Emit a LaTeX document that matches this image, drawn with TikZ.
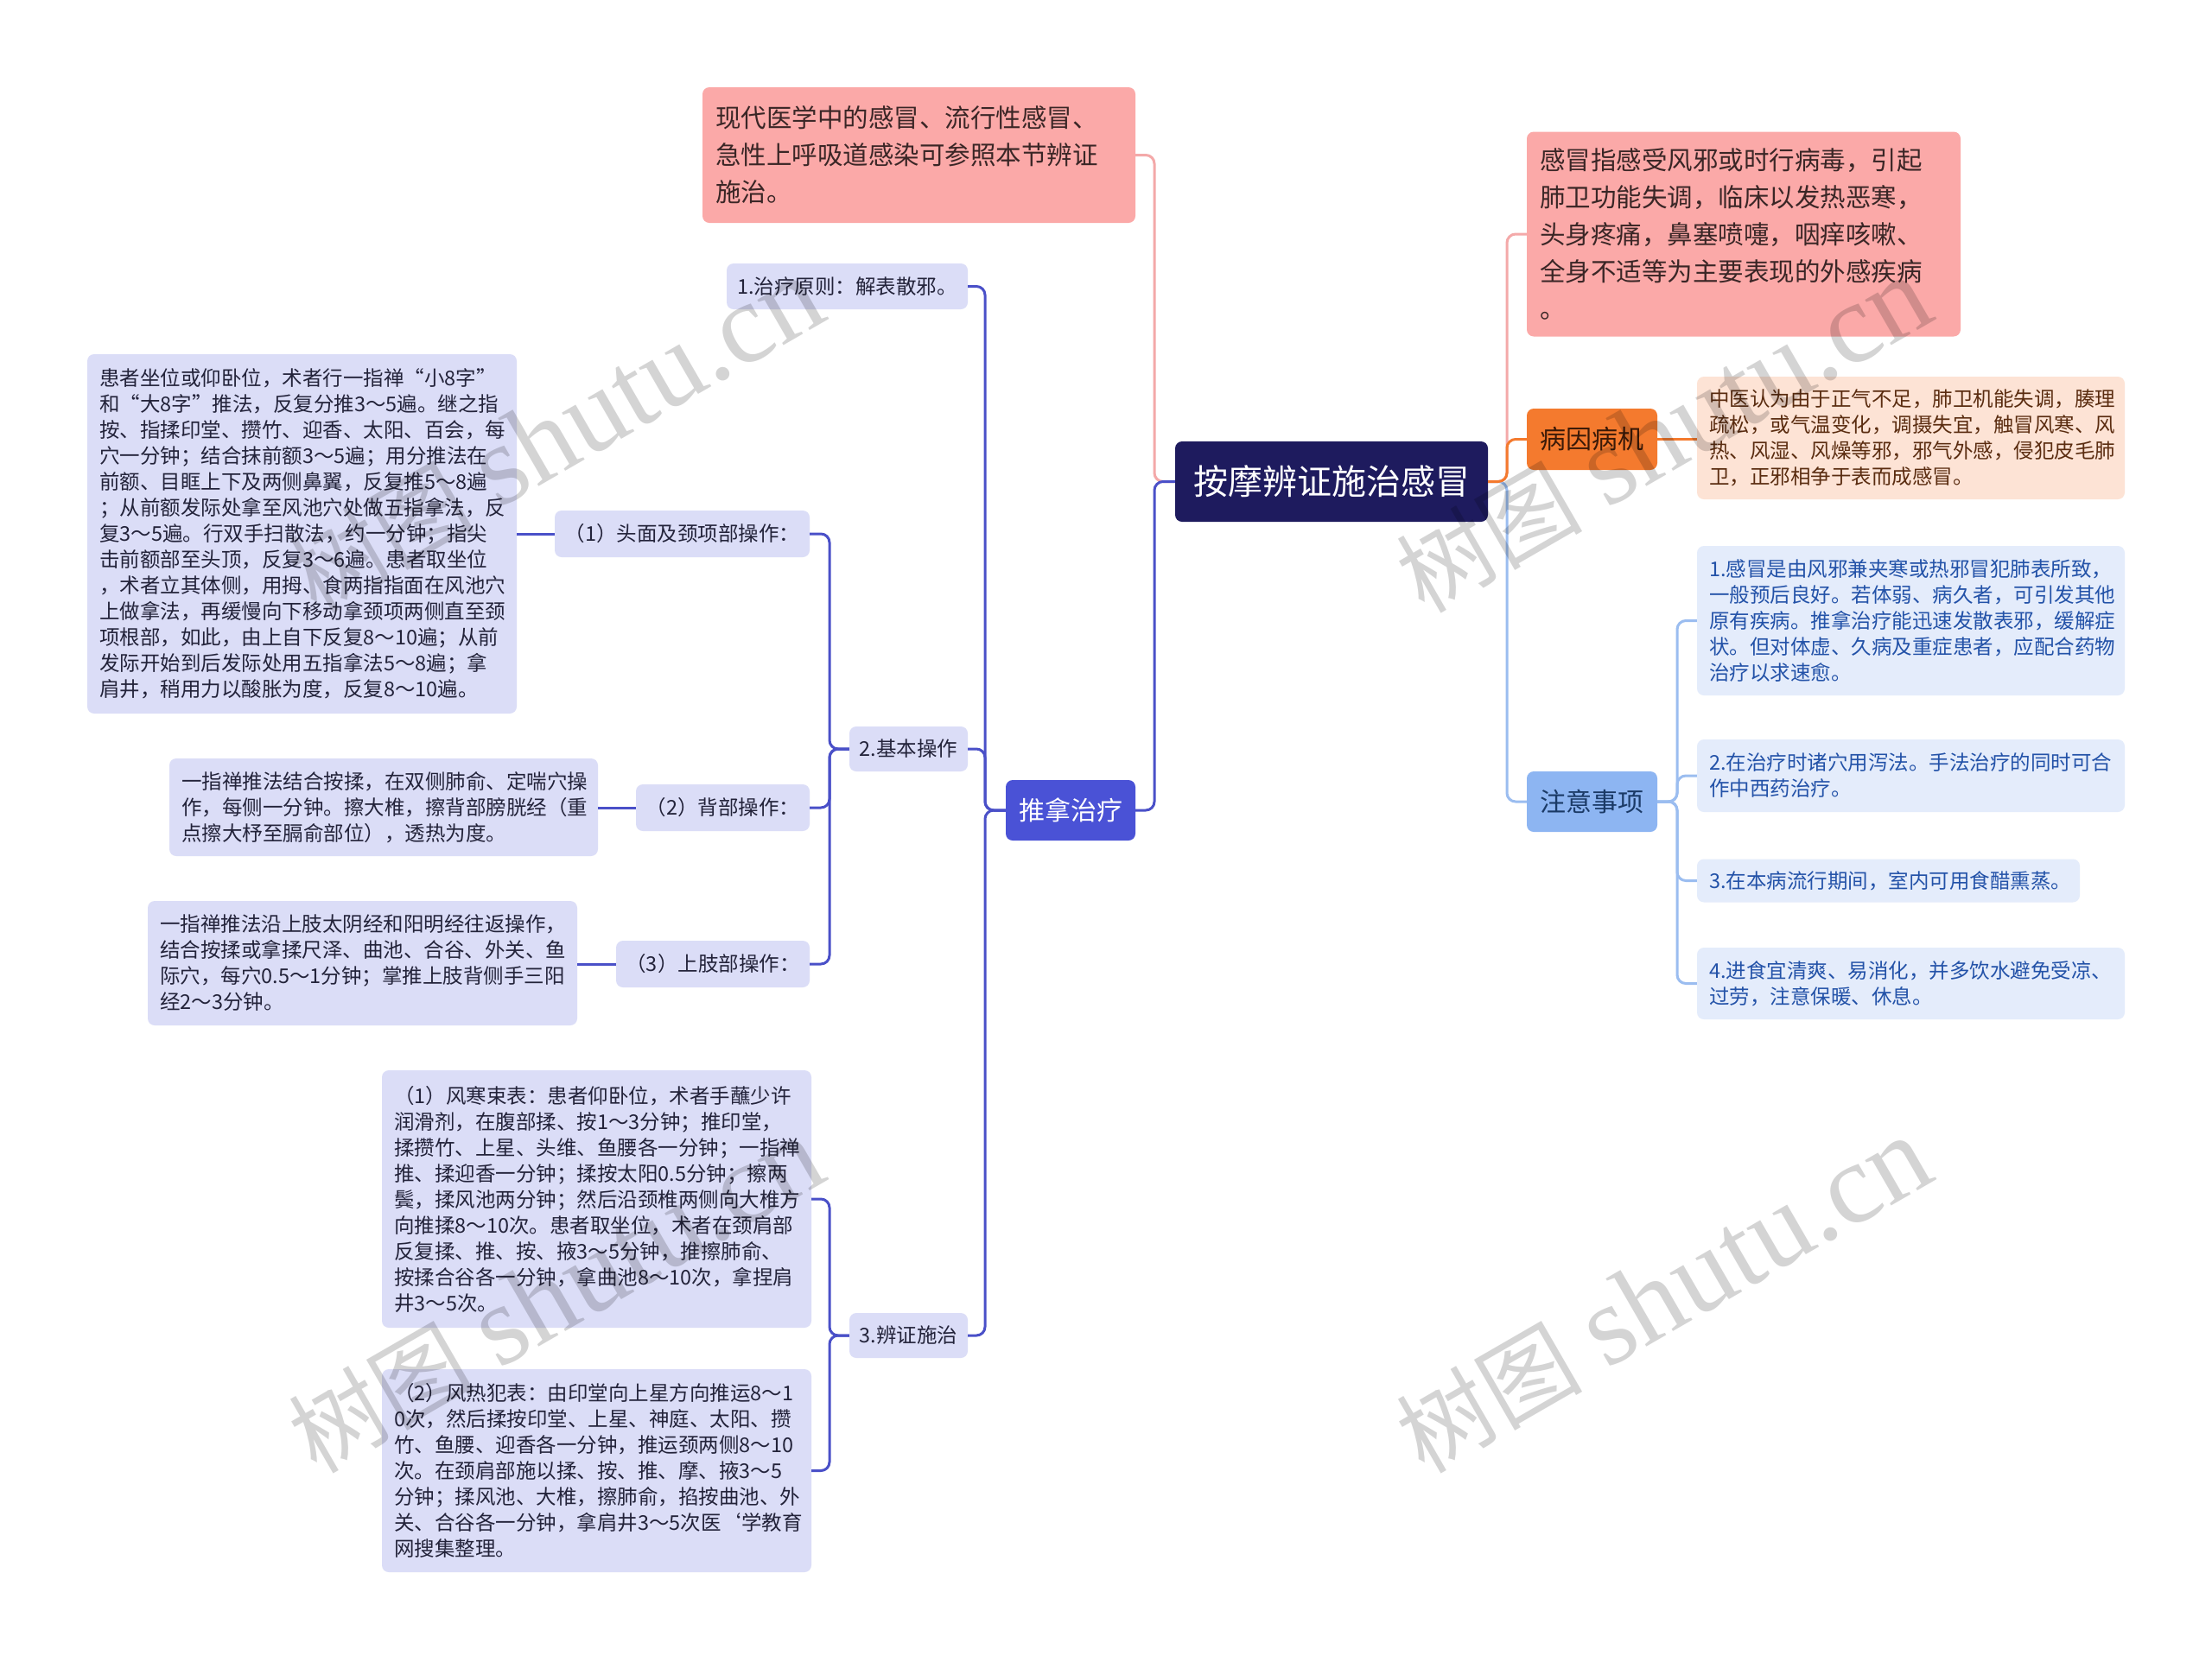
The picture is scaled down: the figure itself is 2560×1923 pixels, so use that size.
\documentclass[tikz,border=0pt]{standalone}
\usepackage{fontspec}
\setmainfont{Noto Sans CJK SC}
\newfontfamily\wmfont{Liberation Serif}
\usetikzlibrary{calc}
\definecolor{rootc}{HTML}{1E1B5E}
\definecolor{tuinac}{HTML}{4A52D6}
\definecolor{linec}{HTML}{4A50C8}
\definecolor{lav}{HTML}{DBDDF7}
\definecolor{lavtext}{HTML}{23233A}
\definecolor{pinkc}{HTML}{FBA9A8}
\definecolor{pinkline}{HTML}{F4A9A9}
\definecolor{pinktext}{HTML}{3A2626}
\definecolor{orangec}{HTML}{F47A2E}
\definecolor{orangetext}{HTML}{3B1A08}
\definecolor{peach}{HTML}{FDE3D5}
\definecolor{peachtext}{HTML}{5A2C10}
\definecolor{zhuyic}{HTML}{8DB5F2}
\definecolor{zhuyitext}{HTML}{1B3A66}
\definecolor{bluebox}{HTML}{E4ECFB}
\definecolor{bluetext}{HTML}{2352A8}
\definecolor{blueline}{HTML}{9BBDF0}
\tikzset{
  base/.style={rounded corners=8pt, inner sep=0pt, anchor=center},
  small/.style={font=\fontsize{23.5pt}{30pt}\selectfont},
  lavtxt/.style={base, small, fill=lav, text=lavtext, align=left},
  lavlab/.style={base, small, fill=lav, text=lavtext},
  bluetxt/.style={base, small, fill=bluebox, text=bluetext, align=left},
  peachtxt/.style={base, small, fill=peach, text=peachtext, align=left},
  pinktxt/.style={base, fill=pinkc, text=pinktext, align=left, font=\fontsize{29.5pt}{43pt}\selectfont},
  rootbox/.style={base, fill=rootc, text=white, font=\fontsize{40pt}{48pt}\selectfont},
  tuinabox/.style={base, fill=tuinac, text=white, font=\fontsize{30pt}{36pt}\selectfont},
  bingbox/.style={base, fill=orangec, text=orangetext, font=\fontsize{30pt}{36pt}\selectfont},
  zhuyibox/.style={base, fill=zhuyic, text=zhuyitext, font=\fontsize{30pt}{36pt}\selectfont},
  conn/.style={line width=3pt, rounded corners=10pt},
  wm/.style={anchor=base west, rotate=30, text=black, text opacity=0.17, inner sep=0pt}
}
\newcommand{\wmtext}{{\fontsize{108pt}{108pt}\selectfont 树图}\hspace{28pt}{\wmfont\fontsize{132pt}{132pt}\selectfont shutu.cn}}
\begin{document}
\begin{tikzpicture}[x=1pt,y=-1pt]
\useasboundingbox (0,0) rectangle (2560,1923);
\fill[white] (0,0) rectangle (2560,1923);

% ---------- nodes ----------
\node[rootbox, minimum width=362pt, minimum height=93pt] (root) at (1541,557.5) {按摩辨证施治感冒};

\node[pinktxt, minimum width=501pt, minimum height=157pt, text width=471pt] (pinkTL) at (1063.5,179.5)
 {现代医学中的感冒、流行性感冒、\\急性上呼吸道感染可参照本节辨证\\施治。};

\node[tuinabox, minimum width=150pt, minimum height=70pt] (tuina) at (1239,938) {推拿治疗};

\node[lavlab, minimum width=279pt, minimum height=53pt] (c1) at (980.5,331.5) {1.治疗原则：解表散邪。};
\node[lavlab, minimum width=137pt, minimum height=52pt] (c2) at (1051.5,867) {2.基本操作};
\node[lavlab, minimum width=137pt, minimum height=52pt] (c3) at (1051.5,1546) {3.辨证施治};

\node[lavlab, minimum width=295pt, minimum height=54pt] (h1) at (789.5,618) {（1）头面及颈项部操作：};
\node[lavlab, minimum width=201pt, minimum height=54pt] (h2) at (836.5,935) {（2）背部操作：};
\node[lavlab, minimum width=224pt, minimum height=54pt] (h3) at (825,1116) {（3）上肢部操作：};

\node[lavtxt, minimum width=497pt, minimum height=416pt, text width=469pt] (head) at (349.5,618)
 {患者坐位或仰卧位，术者行一指禅“小8字”\\
  和“大8字”推法，反复分推3～5遍。继之指\\
  按、指揉印堂、攒竹、迎香、太阳、百会，每\\
  穴一分钟；结合抹前额3～5遍；用分推法在\\
  前额、目眶上下及两侧鼻翼，反复推5～8遍\\
  ；从前额发际处拿至风池穴处做五指拿法，反\\
  复3～5遍。行双手扫散法，约一分钟；指尖\\
  击前额部至头顶，反复3～6遍。患者取坐位\\
  ，术者立其体侧，用拇、食两指指面在风池穴\\
  上做拿法，再缓慢向下移动拿颈项两侧直至颈\\
  项根部，如此，由上自下反复8～10遍；从前\\
  发际开始到后发际处用五指拿法5～8遍；拿\\
  肩井，稍用力以酸胀为度，反复8～10遍。};

\node[lavtxt, minimum width=496pt, minimum height=113pt, text width=468pt] (back) at (444,934.5)
 {一指禅推法结合按揉，在双侧肺俞、定喘穴操\\
  作，每侧一分钟。擦大椎，擦背部膀胱经（重\\
  点擦大杼至膈俞部位），透热为度。};

\node[lavtxt, minimum width=497pt, minimum height=144pt, text width=469pt] (upper) at (419.5,1115)
 {一指禅推法沿上肢太阴经和阳明经往返操作，\\
  结合按揉或拿揉尺泽、曲池、合谷、外关、鱼\\
  际穴，每穴0.5～1分钟；掌推上肢背侧手三阳\\
  经2～3分钟。};

\node[lavtxt, minimum width=497pt, minimum height=298pt, text width=469pt] (fh) at (690.5,1388)
 {（1）风寒束表：患者仰卧位，术者手蘸少许\\
  润滑剂，在腹部揉、按1～3分钟；推印堂，\\
  揉攒竹、上星、头维、鱼腰各一分钟；一指禅\\
  推、揉迎香一分钟；揉按太阳0.5分钟；擦两\\
  鬓，揉风池两分钟；然后沿颈椎两侧向大椎方\\
  向推揉8～10次。患者取坐位，术者在颈肩部\\
  反复揉、推、按、掖3～5分钟，推擦肺俞、\\
  按揉合谷各一分钟，拿曲池8～10次，拿捏肩\\
  井3～5次。};

\node[lavtxt, minimum width=497pt, minimum height=235pt, text width=469pt] (fr) at (690.5,1702.5)
 {（2）风热犯表：由印堂向上星方向推运8～1\\
  0次，然后揉按印堂、上星、神庭、太阳、攒\\
  竹、鱼腰、迎香各一分钟，推运颈两侧8～10\\
  次。在颈肩部施以揉、按、推、摩、掖3～5\\
  分钟；揉风池、大椎，擦肺俞，掐按曲池、外\\
  关、合谷各一分钟，拿肩井3～5次医\symbol{96}学教育\\
  网搜集整理。};

\node[pinktxt, minimum width=502pt, minimum height=237pt, text width=472pt] (pinkR) at (2018,271)
 {感冒指感受风邪或时行病毒，引起\\
  肺卫功能失调，临床以发热恶寒，\\
  头身疼痛，鼻塞喷嚏，咽痒咳嗽、\\
  全身不适等为主要表现的外感疾病\\
  。};

\node[bingbox, minimum width=151pt, minimum height=71pt] (bing) at (1842.5,508.5) {病因病机};
\node[peachtxt, minimum width=495pt, minimum height=142pt, text width=467pt] (zhongyi) at (2211.5,507)
 {中医认为由于正气不足，肺卫机能失调，腠理\\
  疏松，或气温变化，调摄失宜，触冒风寒、风\\
  热、风湿、风燥等邪，邪气外感，侵犯皮毛肺\\
  卫，正邪相争于表而成感冒。};

\node[zhuyibox, minimum width=151pt, minimum height=70pt] (zhuyi) at (1842.5,928) {注意事项};
\node[bluetxt, minimum width=495pt, minimum height=173pt, text width=467pt] (n1) at (2211.5,718.5)
 {1.感冒是由风邪兼夹寒或热邪冒犯肺表所致，\\
  一般预后良好。若体弱、病久者，可引发其他\\
  原有疾病。推拿治疗能迅速发散表邪，缓解症\\
  状。但对体虚、久病及重症患者，应配合药物\\
  治疗以求速愈。};
\node[bluetxt, minimum width=495pt, minimum height=84pt, text width=467pt] (n2) at (2211.5,898)
 {2.在治疗时诸穴用泻法。手法治疗的同时可合\\
  作中西药治疗。};
\node[bluetxt, minimum width=443pt, minimum height=50pt, text width=415pt] (n3) at (2185.5,1019.5)
 {3.在本病流行期间，室内可用食醋熏蒸。};
\node[bluetxt, minimum width=495pt, minimum height=83pt, text width=467pt] (n4) at (2211.5,1138.5)
 {4.进食宜清爽、易消化，并多饮水避免受凉、\\
  过劳，注意保暖、休息。};

% ---------- junctions ----------
\coordinate (jR0) at (1336,557.5);
\coordinate (jT) at (1140,938);
\coordinate (jB) at (960,867);
\coordinate (jS) at (960,1546);
\coordinate (jL0) at (1744,557.5);
\coordinate (jZ) at (1941,928);

% ---------- connectors ----------
\draw[conn, pinkline] (root.west) -- (jR0) |- (pinkTL.east);
\draw[conn, linec] (root.west) -- (jR0) |- (tuina.east);

\draw[conn, linec] (tuina.west) -- (jT) |- (c1.east);
\draw[conn, linec] (tuina.west) -- (jT) |- (c2.east);
\draw[conn, linec] (tuina.west) -- (jT) |- (c3.east);

\draw[conn, linec] (c2.west) -- (jB) |- (h1.east);
\draw[conn, linec] (c2.west) -- (jB) |- (h2.east);
\draw[conn, linec] (c2.west) -- (jB) |- (h3.east);

\draw[conn, linec] (h1.west) -- (head.east |- h1.west);
\draw[conn, linec] (h2.west) -- (back.east |- h2.west);
\draw[conn, linec] (h3.west) -- (upper.east |- h3.west);

\draw[conn, linec] (c3.west) -- (jS) |- (fh.east);
\draw[conn, linec] (c3.west) -- (jS) |- (fr.east);

\draw[conn, pinkline] (root.east) -- (jL0) |- (pinkR.west);
\draw[conn, blueline] (root.east) -- (jL0) |- (zhuyi.west);
\draw[conn, orangec] (root.east) -- (jL0) |- (bing.west);
\draw[conn, orangec] (bing.east) -- (zhongyi.west |- bing.east);

\draw[conn, blueline] (zhuyi.east) -- (jZ) |- (n1.west);
\draw[conn, blueline] (zhuyi.east) -- (jZ) |- (n2.west);
\draw[conn, blueline] (zhuyi.east) -- (jZ) |- (n3.west);
\draw[conn, blueline] (zhuyi.east) -- (jZ) |- (n4.west);

% ---------- watermarks ----------
\node[wm] (wm1) at (366,712) {\wmtext};
\node[wm] (wm2) at (1648,712) {\wmtext};
\node[wm] (wm3) at (366,1708) {\wmtext};
\node[wm] (wm4) at (1648,1708) {\wmtext};
\end{tikzpicture}
\end{document}
